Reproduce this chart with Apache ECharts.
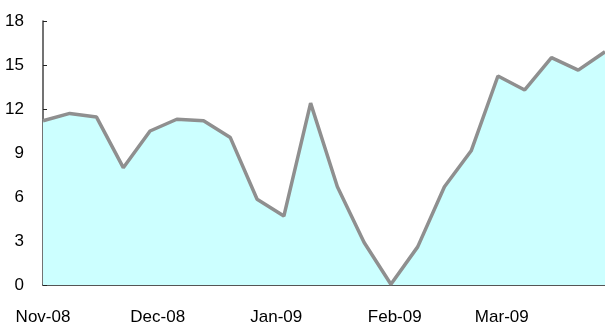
<!DOCTYPE html>
<html>
<head>
<meta charset="utf-8">
<script src="https://cdn.jsdelivr.net/npm/echarts@6/dist/echarts.min.js"></script>
<style>
  html, body { margin: 0; padding: 0; background: #fff; }
  #chart { width: 605px; height: 329px; }
</style>
</head>
<body>
<div id="chart"></div>
<script>
// Weekly observations, Nov 2008 – Mar 2009
const weeks = [
  '2008-11-01', '2008-11-08', '2008-11-15', '2008-11-22', '2008-11-29',
  '2008-12-06', '2008-12-13', '2008-12-20', '2008-12-27',
  '2009-01-03', '2009-01-10', '2009-01-17', '2009-01-24', '2009-01-31',
  '2009-02-07', '2009-02-14', '2009-02-21', '2009-02-28',
  '2009-03-07', '2009-03-14', '2009-03-21', '2009-03-28'
];
const values = [
  11.2, 11.7, 11.45, 8.0, 10.5,
  11.3, 11.2, 10.05, 5.85,
  4.7, 12.4, 6.7, 2.9, 0.05,
  2.6, 6.7, 9.15, 14.25,
  13.3, 15.5, 14.65, 15.9
];
// Month starts used for x-axis ticks and labels
const monthTicks = ['2008-11-01', '2008-12-01', '2009-01-01', '2009-02-01', '2009-03-01'];
const monthLabels = ['Nov-08', 'Dec-08', 'Jan-09', 'Feb-09', 'Mar-09'];

// Dates become day numbers on a linear axis so month starts can be placed exactly
const DAY = 86400000;
const toDay = s => {
  const [y, m, d] = s.split('-').map(Number);
  return Math.round(Date.UTC(y, m - 1, d) / DAY);
};
const tickDays = monthTicks.map(toDay);

const FONT = "'Liberation Sans', Arial, sans-serif";

const chart = echarts.init(document.getElementById('chart'), null, { renderer: 'canvas' });
chart.setOption({
  animation: false,
  backgroundColor: '#ffffff',
  grid: { left: 43, right: 0, top: 21, bottom: 44, containLabel: false },
  xAxis: {
    type: 'value',
    min: toDay(weeks[0]),
    max: toDay(weeks[weeks.length - 1]),
    axisLine: { show: true, lineStyle: { color: '#555', width: 2 } },
    axisTick: {
      show: true, inside: true, length: 5,
      lineStyle: { color: '#222', width: 1 },
      customValues: tickDays
    },
    axisLabel: {
      customValues: tickDays,
      margin: 24,
      color: '#000',
      fontSize: 17,
      fontFamily: FONT,
      hideOverlap: false,
      formatter: v => {
        const i = tickDays.indexOf(v);
        return i >= 0 ? monthLabels[i] : '';
      }
    },
    splitLine: { show: false }
  },
  yAxis: {
    type: 'value',
    min: 0,
    max: 18,
    interval: 3,
    axisLine: { show: true, lineStyle: { color: '#444', width: 1.5 } },
    axisTick: { show: true, inside: true, length: 4, lineStyle: { color: '#222', width: 1 } },
    axisLabel: { margin: 19, color: '#000', fontSize: 17, fontFamily: FONT },
    splitLine: { show: false }
  },
  series: [{
    type: 'line',
    data: weeks.map((w, i) => [toDay(w), values[i]]),
    symbol: 'none',
    lineStyle: { color: '#8f8f8f', width: 3.5 },
    areaStyle: { color: '#ccffff', opacity: 1 },
    z: 1
  }]
});
</script>
</body>
</html>
